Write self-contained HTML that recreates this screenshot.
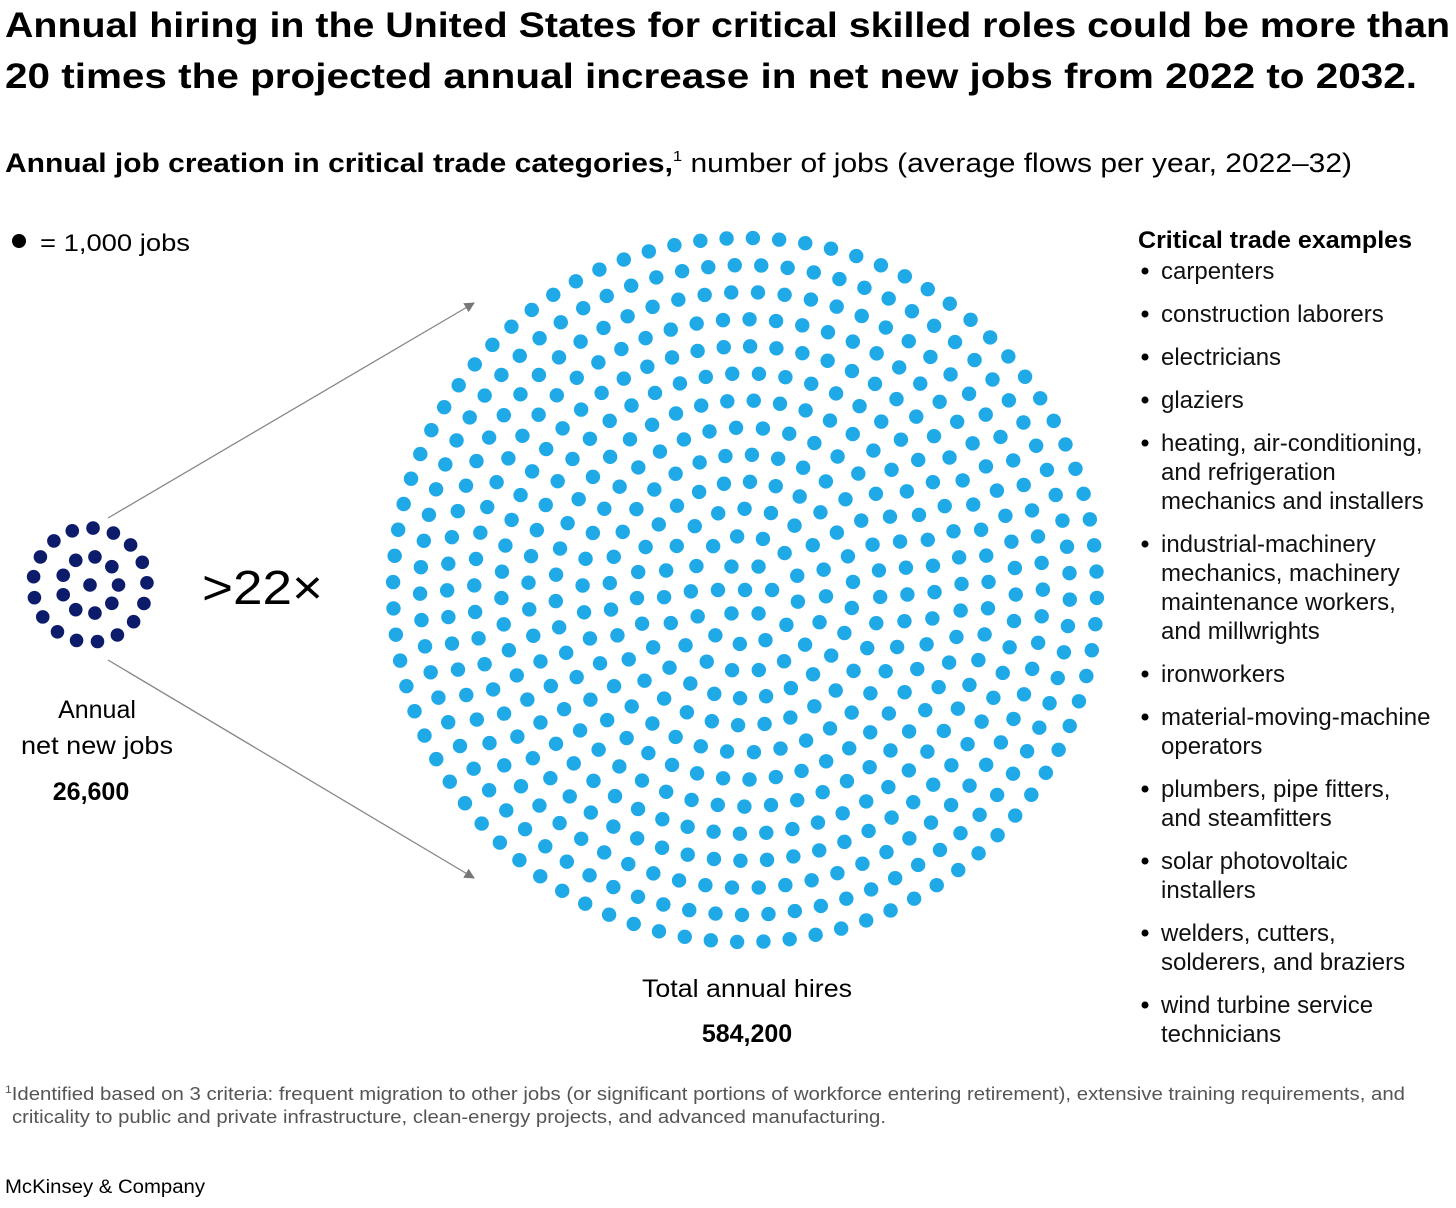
<!DOCTYPE html>
<html><head><meta charset="utf-8"><style>
html,body{margin:0;padding:0;background:#fff;}
svg{display:block;font-family:"Liberation Sans",sans-serif;}
</style></head><body>
<svg id="chart" width="1456" height="1208" viewBox="0 0 1456 1208">
<defs><marker id="ah" viewBox="0 0 10 10" refX="9" refY="5" markerWidth="8" markerHeight="8" orient="auto"><path d="M0,0L10,5L0,10z" fill="#777"/></marker></defs>
<text x="5" y="37" font-size="35" font-weight="bold" fill="#000" textLength="1445" lengthAdjust="spacingAndGlyphs">Annual hiring in the United States for critical skilled roles could be more than</text>
<text x="5" y="88" font-size="35" font-weight="bold" fill="#000" textLength="1412" lengthAdjust="spacingAndGlyphs">20 times the projected annual increase in net new jobs from 2022 to 2032.</text>
<text x="5" y="172" font-size="27" fill="#000" textLength="1347" lengthAdjust="spacingAndGlyphs"><tspan font-weight="bold">Annual job creation in critical trade categories,</tspan><tspan font-size="15" dy="-11">1</tspan><tspan dy="11"> number of jobs (average flows per year, 2022–32)</tspan></text>
<circle cx="19" cy="241" r="7" fill="#000"/>
<text x="40" y="251" font-size="24" fill="#000" textLength="150" lengthAdjust="spacingAndGlyphs">= 1,000 jobs</text>
<line x1="108" y1="518" x2="474" y2="303" stroke="#888" stroke-width="1.3" marker-end="url(#ah)"/>
<line x1="108" y1="660" x2="474" y2="878" stroke="#888" stroke-width="1.3" marker-end="url(#ah)"/>
<text x="202" y="604" font-size="48" fill="#000" textLength="121" lengthAdjust="spacingAndGlyphs">&gt;22×</text>
<g id="dots"></g>
<text x="97" y="718" font-size="25" text-anchor="middle">Annual</text>
<text x="97" y="754" font-size="25" text-anchor="middle" textLength="152" lengthAdjust="spacingAndGlyphs">net new jobs</text>
<text id="smallVal" x="91" y="800" font-size="25" font-weight="bold" text-anchor="middle">26,600</text>
<text x="747" y="997" font-size="25" text-anchor="middle" textLength="210" lengthAdjust="spacingAndGlyphs">Total annual hires</text>
<text id="bigVal" x="747" y="1042" font-size="25" font-weight="bold" text-anchor="middle">584,200</text>
<text x="1138" y="248" font-size="24" font-weight="bold" textLength="274" lengthAdjust="spacingAndGlyphs">Critical trade examples</text>
<g id="list" font-size="24" fill="#111"></g>
<text x="5" y="1100" font-size="18.5" fill="#555" textLength="1400" lengthAdjust="spacingAndGlyphs"><tspan font-size="11" dy="-7">1</tspan><tspan dy="7">Identified based on 3 criteria: frequent migration to other jobs (or significant portions of workforce entering retirement), extensive training requirements, and</tspan></text>
<text x="12" y="1123" font-size="18.5" fill="#555" textLength="874" lengthAdjust="spacingAndGlyphs">criticality to public and private infrastructure, clean-energy projects, and advanced manufacturing.</text>
<text x="5" y="1193" font-size="19" fill="#000" textLength="200" lengthAdjust="spacingAndGlyphs">McKinsey &amp; Company</text>
</svg>
<script>
const groups = ["net-new-jobs","total-annual-hires"];
const values = [26600, 584200];
const jobsPerDot = 1000;
const items = [
 ["carpenters"],["construction laborers"],["electricians"],["glaziers"],
 ["heating, air-conditioning,","and refrigeration","mechanics and installers"],
 ["industrial-machinery","mechanics, machinery","maintenance workers,","and millwrights"],
 ["ironworkers"],["material-moving-machine","operators"],
 ["plumbers, pipe fitters,","and steamfitters"],["solar photovoltaic","installers"],
 ["welders, cutters,","solderers, and braziers"],["wind turbine service","technicians"]
];
const NS="http://www.w3.org/2000/svg";
const layout=[{cx:90,cy:585,R:57,r:6.8,fill:"#0c1c6b"},{cx:745,cy:590,R:352,r:7.2,fill:"#1fa9e7"}];
const g=document.getElementById("dots");
function addDot(x,y,L,i){
  const d=document.createElementNS(NS,"circle");
  d.setAttribute("cx",x);d.setAttribute("cy",y);
  d.setAttribute("r",L.r);d.setAttribute("fill",L.fill);
  
  
  g.appendChild(d);
}
values.forEach((v,i)=>{
  const n=Math.round(v/jobsPerDot), L=layout[i];
  // number of concentric rings so that spacing along ring ~ ring gap
  let K=1; while(Math.PI*K*(K+1) < n-1) K++;
  if(Math.PI*K*(K+1) - (n-1) > (n-1) - Math.PI*(K-1)*K) K--;
  const tot=K*(K+1)/2;
  const counts=[]; let used=0;
  for(let k=1;k<=K;k++){const c=Math.round((n-1)*k/tot); counts.push(c); used+=c;}
  counts[K-1]+= (n-1-used);
  addDot(L.cx,L.cy,L,i);
  const step=L.R/K;
  counts.forEach((c,idx)=>{
    const rr=step*(idx+1), off=idx*0.7;
    for(let j=0;j<c;j++){
      const th=off+2*Math.PI*j/c;
      addDot(L.cx+rr*Math.cos(th),L.cy+rr*Math.sin(th),L,i);
    }
  });
});
document.getElementById("smallVal").textContent=values[0].toLocaleString("en-US");
document.getElementById("bigVal").textContent=values[1].toLocaleString("en-US");
const list=document.getElementById("list");
let y=279;
items.forEach(lines=>{
  const b=document.createElementNS(NS,"circle");
  b.setAttribute("cx",1145);b.setAttribute("cy",y-8);b.setAttribute("r",3.5);b.setAttribute("fill","#000");
  
  
  list.appendChild(b);
  lines.forEach((t,j)=>{
    const tx=document.createElementNS(NS,"text");
    tx.setAttribute("x",1161);tx.setAttribute("y",y+j*29);tx.textContent=t;
    
    
    list.appendChild(tx);
  });
  y+= (lines.length-1)*29+43;
});
</script>
</body></html>
